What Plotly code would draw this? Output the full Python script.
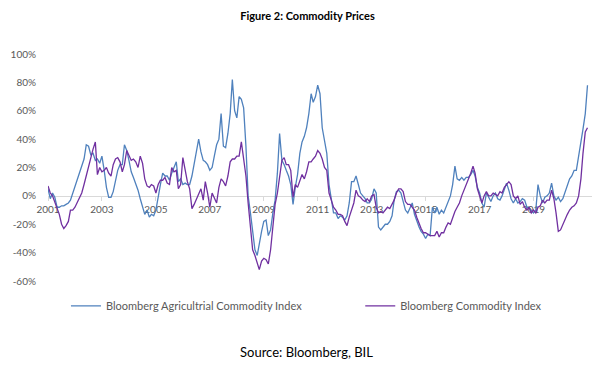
import pandas as pd
import plotly.graph_objects as go

# Year-over-year change (%), monthly, May 2001 .. May 2021
agri_yoy = [
    5, -2, 2, -1, -8, -8, -7, -7, -6, -5, -3, 2,
    6, 11, 15, 20, 26, 36, 35, 29, 30, 25, 26, 23,
    28, 18, 6, -1, -1, 3, 12, 18, 22, 22, 36, 32,
    25, 17, 13, 9, 4, -2, -8, -13, -10, -15, -13, -14,
    -10, 0, 8, 16, 14, 14, 11, 16, 20, 24, 10, 12,
    8, 9, 8, 8, 14, 22, 30, 40, 31, 25, 24, 22,
    18, 20, 28, 36, 40, 58, 35, 34, 44, 58, 82, 60,
    55, 70, 68, 62, 35, 0, -12, -25, -38, -42, -33, -25,
    -18, -17, -28, -24, -12, -3, 16, 44, 25, 22, 18, 14,
    8, -6, 6, 15, 30, 38, 42, 48, 58, 72, 66, 70,
    78, 72, 48, 38, 30, 8, -4, -12, -12, -16, -14, -15,
    -17, -14, -5, 10, 10, 14, 8, 2, 0, -2, -5, -5,
    -2, 5, 2, -22, -24, -22, -20, -20, -18, -14, -3, 3,
    4, 2, -4, -10, -12, -8, -5, -13, -18, -22, -25, -27,
    -30, -27, -28, -8, -12, -8, -13, -10, -12, -8, -4, 0,
    8, 21, 12, 11, 13, 11, 13, 13, 15, 18, 14, 6,
    2, -5, -8, 2, -1, -4, 0, 2, -2, -3, 0, 5,
    9, 4, -2, -5, -2, -5, -4, -2, -3, -8, -8, -10,
    -12, -10, 8, 0, -5, -1, 0, 2, 9, 0, -3, -1,
    -4, -2, 3, 8, 12, 14, 18, 18, 28, 35, 47, 58,
    78,
]

bcom_yoy = [
    7, 2, 0, -4, -8, -13, -20, -23, -21, -18, -10, -10,
    -8, -5, -2, 2, 8, 14, 22, 26, 33, 38, 15, 20,
    17, 18, 20, 16, 14, 22, 26, 27, 24, 17, 22, 32,
    28, 25, 26, 24, 20, 28, 23, 12, 7, 6, 8, 7,
    2, 8, 11, 11, 13, 9, 8, 20, 17, 18, 5, 8,
    27, 18, 10, 5, -9, -6, -2, 2, 5, -3, 10, 2,
    -8, 2, -2, -5, 6, 12, 10, 7, 14, 24, 26, 26,
    28, 28, 38, 24, 14, -5, -22, -38, -42, -47, -52, -46,
    -44, -45, -48, -38, -24, -6, 2, 14, 25, 27, 22, 22,
    18, -1, 8, 6, 10, 15, 12, 17, 24, 24, 26, 28,
    32, 30, 26, 20, 18, 2, -3, -8, -10, -13, -13, -14,
    -18, -21, -15, -10, -5, 4, 0, -1, -3, -4, -2, -4,
    0, 1, -8, -12, -11, -12, -10, -8, -9, -6, -3, 2,
    5, 5, 3, -4, -6, -6, -8, -10, -15, -20, -23, -26,
    -26, -27, -28, -28, -28, -25, -29, -26, -26, -22, -19, -20,
    -15, -11, -8, -5, 0, 4, 7, 11, 16, 21, 16, 5,
    0, -5, 0, 3, 0, 0, 2, 1, 0, 3, 2, 6,
    8, 10, 8, 0, -2, 0, -6, -4, -8, -10, -8, -12,
    -10, -12, -8, -7, -3, -5, -3, -3, 4, -2, -12, -25,
    -24, -20, -17, -13, -10, -8, -7, -5, 0, 12, 30, 45,
    48,
]

dates = pd.date_range("2001-05-01", periods=len(agri_yoy), freq="MS")

series_names = ["Bloomberg Agricultrial Commodity Index", "Bloomberg Commodity Index"]
y_ticks = [-60, -40, -20, 0, 20, 40, 60, 80, 100]
y_labels = [f"{v}%" for v in y_ticks]
x_tick_years = [2001, 2003, 2005, 2007, 2009, 2011, 2013, 2015, 2017, 2019]
x_tick_dates = [f"{y}-05-01" for y in x_tick_years]
x_tick_labels = [str(y) for y in x_tick_years]

FONT = "Lato"
GREY = "#595959"

fig = go.Figure()
fig.add_trace(go.Scatter(x=dates, y=agri_yoy, mode="lines", name=series_names[0],
                         line=dict(color="#4F81BD", width=1.3), legend="legend"))
fig.add_trace(go.Scatter(x=dates, y=bcom_yoy, mode="lines", name=series_names[1],
                         line=dict(color="#7030A0", width=1.3), legend="legend2"))

legend_common = dict(orientation="h", y=-0.11, yanchor="middle", xanchor="left",
                     font=dict(family=FONT, size=11, color=GREY),
                     bgcolor="rgba(0,0,0,0)", itemclick=False, itemdoubleclick=False)

fig.update_layout(
    width=615, height=377,
    margin=dict(l=48, r=23, t=54, b=96),
    paper_bgcolor="white", plot_bgcolor="white",
    font=dict(family=FONT, color=GREY, size=10),
    title=dict(text="<b>Figure 2: Commodity Prices</b>", x=0.5, xref="container",
               y=1 - 16 / 377, yref="container", xanchor="center", yanchor="middle",
               font=dict(family=FONT, size=11, color="black")),
    showlegend=True,
    legend=dict(x=0.033, **legend_common),
    legend2=dict(x=0.574, **legend_common),
    annotations=[dict(text="Source: Bloomberg, BIL", x=0.476, y=-0.313, xref="paper", yref="paper",
                      showarrow=False, xanchor="center", yanchor="middle",
                      font=dict(family=FONT, size=13, color="black"))],
)

fig.update_yaxes(range=[-60, 100], tickvals=y_ticks, ticktext=y_labels, showgrid=False,
                 zeroline=False, showline=False, ticks="outside", ticklen=9,
                 tickcolor="rgba(0,0,0,0)", tickfont=dict(size=10, color=GREY))
fig.update_xaxes(type="date", range=["2001-05-01", "2021-07-01"], anchor="free", position=0.375,
                 tickvals=x_tick_dates, ticktext=x_tick_labels, showgrid=False,
                 showline=True, linecolor="#D9D9D9", linewidth=1, ticks="outside", ticklen=4,
                 tickcolor="#D9D9D9", layer="below traces", zeroline=False,
                 tickfont=dict(size=10, color=GREY))

fig.write_html("out.html", config={"displayModeBar": False},
               post_script="document.body.style.margin='0';")
